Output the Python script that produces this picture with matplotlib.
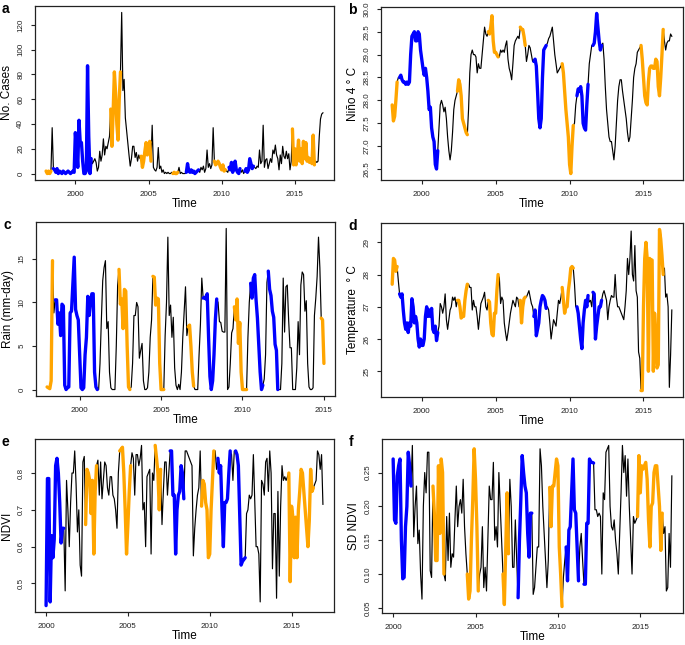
import numpy as np
import matplotlib
matplotlib.use("Agg")
import matplotlib.pyplot as plt

plt.rcParams['font.family'] = ['Liberation Sans', 'DejaVu Sans']

# ENSO phases, decimal years of first and last month (inclusive)
el_nino = [(1998.0, 1998.333), (2002.417, 2003.083), (2004.5, 2005.167),
           (2006.667, 2007.0), (2009.5, 2010.25), (2014.833, 2016.333)]
la_nina = [(1998.5, 2001.083), (2007.583, 2008.417), (2010.5, 2011.25),
           (2011.583, 2012.167)]

# monthly series, one row per year
cases_start = 1998.0
cases = [
    2, 0, 2, 0, 2, 37, 4, 3, 1, 4, 0, 2,
    1, 0, 2, 1, 0, 1, 2, 1, 0, 1, 2, 1,
    33, 20, 5, 43, 25, 25, 10, 0, 0, 2, 87, 30,
    0, 12, 8, 10, 12, 9, 2, 5, 18, 10, 15, 28,
    15, 22, 20, 25, 30, 52, 22, 50, 82, 65, 40, 27,
    60, 82, 130, 67, 76, 45, 35, 25, 15, 6, 12, 22,
    22, 13, 17, 10, 15, 12, 14, 5, 10, 18, 25, 15,
    20, 26, 10, 39, 5, 3, 2, 5, 21, 4, 6, 1,
    3, 0, 1, 0, 1, 0, 0, 1, 0, 1, 0, 0,
    1, 5, 0, 1, 0, 0, 0, 1, 8, 2, 1, 3,
    1, 2, 0, 1, 2, 3, 1, 5, 3, 6, 1, 4,
    19, 5, 8, 4, 7, 37, 10, 7, 8, 10, 8, 5,
    3, 7, 2, 3, 2, 1, 5, 3, 9, 1, 5, 10,
    3, 1, 0, 4, 1, 3, 0, 2, 4, 1, 3, 12,
    8, 4, 6, 5, 4, 6, 5, 19, 8, 10, 39, 5,
    11, 12, 4, 8, 12, 9, 19, 16, 23, 15, 12, 3,
    15, 8, 22, 14, 12, 18, 12, 16, 3, 10, 36, 7,
    20, 7, 15, 27, 10, 20, 8, 26, 12, 25, 10, 13,
    9, 12, 8, 31, 7, 10, 9, 10, 30, 44, 48, 49,
]

nino4_start = 1998.0
nino4 = [
    27.9, 27.55, 27.65, 28.0, 28.4, 28.5, 28.5, 28.55, 28.45, 28.4, 28.4, 28.35,
    28.4, 28.35, 28.4, 29.0, 29.4, 29.45, 29.5, 29.3, 29.3, 29.5, 29.45, 29.1,
    28.9, 28.7, 28.55, 28.7, 28.5, 28.2, 27.8, 27.85, 27.4, 27.2, 27.1, 26.6,
    26.5, 26.9, 27.4, 27.9, 28.0, 27.9, 27.75, 27.85, 27.6, 27.2, 26.9, 26.7,
    26.9, 27.3, 27.8, 28.0, 28.1, 28.2, 28.45, 28.35, 28.1, 27.6, 27.5, 27.4,
    27.3, 27.25, 27.8, 28.6, 29.0, 29.1, 29.0, 29.0, 28.95, 28.6, 28.8, 28.7,
    28.7, 29.0, 29.3, 29.6, 29.45, 29.4, 29.5, 29.45, 29.6, 29.85, 29.3, 29.05,
    29.05, 29.0, 28.95, 28.95, 29.1, 29.05, 29.1, 29.05, 29.2, 29.3, 28.9, 28.7,
    28.6, 28.45, 28.8, 29.2, 29.3, 29.35, 29.4, 29.35, 29.6, 29.55, 29.55, 29.4,
    29.2, 28.85, 29.0, 29.2, 29.15, 29.0, 28.85, 28.85, 28.9, 28.75, 28.2, 27.6,
    27.4, 27.6, 28.5, 29.1, 29.15, 29.2, 29.25, 29.35, 29.4, 29.5, 29.6, 29.3,
    29.0, 28.8, 28.6, 28.65, 28.7, 28.75, 28.8, 28.6, 28.2, 27.8, 27.5, 27.2,
    26.6, 26.4, 27.0, 27.45, 27.5, 27.9, 28.1, 28.25, 28.2, 28.3, 28.1, 27.5,
    27.4, 27.35, 27.9, 28.35, 28.8, 29.0, 29.2, 29.2, 29.25, 29.5, 29.9, 29.6,
    29.3, 29.1, 29.2, 29.25, 28.9, 28.3, 27.8, 27.5, 27.2, 27.1, 27.1, 26.9,
    26.7, 27.0, 27.5, 28.0, 28.3, 28.45, 28.45, 28.2, 28.0, 27.8, 27.6, 27.3,
    27.1, 27.2, 27.6, 28.0, 28.5, 28.7, 28.8, 29.05, 29.1, 29.15, 29.2, 28.9,
    28.5, 28.1, 27.95, 27.9, 28.4, 28.7, 28.75, 28.75, 28.7, 28.7, 28.9, 28.85,
    28.3, 28.1, 28.5, 29.0, 29.55, 29.3, 29.1, 29.25, 29.3, 29.3, 29.45, 29.4,
]

rain_start = 1998.0
rain = [
    0.3, 0.2, 0.1, 1.0, 14.8, 8.8, 10.3, 10.3, 7.5, 8.8, 6.2, 9.8,
    9.6, 0.5, 0.0, 0.2, 0.3, 8.8, 9.0, 12.0, 15.2, 9.2, 8.5, 8.0,
    4.0, 0.2, 0.0, 0.2, 4.0, 6.0, 10.7, 8.5, 10.0, 11.0, 11.0, 2.0,
    0.3, 0.0, 0.0, 3.0, 8.0, 12.5, 14.0, 14.8, 7.0, 7.8, 2.0, 0.2,
    0.0, 0.0, 0.0, 5.0, 12.0, 13.8, 9.8, 10.4, 7.0, 11.5, 11.3, 5.0,
    0.3, 0.0, 0.3, 3.0, 8.5, 8.5, 10.0, 9.5, 3.6, 4.5, 5.3, 1.0,
    0.0, 0.0, 0.2, 2.0, 6.0, 8.0, 13.0, 12.9, 9.7, 10.5, 10.4, 3.0,
    0.0, 0.0, 0.0, 6.2, 10.0, 17.5, 8.5, 9.7, 6.0, 8.3, 2.5, 0.5,
    0.0, 0.6, 0.0, 2.0, 6.0, 9.0, 11.8, 6.2, 7.2, 7.4, 5.0, 2.0,
    0.4, 0.0, 0.0, 0.0, 4.0, 7.5, 12.8, 10.5, 10.6, 10.4, 11.0, 6.0,
    1.5, 0.0, 1.0, 4.0, 8.0, 10.4, 10.0, 7.8, 7.7, 6.7, 6.6, 6.6,
    18.5, 0.0, 0.3, 3.0, 6.5, 7.0, 9.5, 8.0, 10.4, 5.3, 7.7, 2.0,
    0.0, 0.0, 0.0, 0.0, 6.0, 10.0, 12.2, 10.5, 12.8, 13.2, 10.3, 8.2,
    5.0, 2.0, 0.0, 0.5, 1.2, 4.0, 12.3, 13.6, 11.5, 10.8, 9.0, 8.3,
    5.2, 4.5, 0.0, 0.0, 0.0, 3.0, 12.8, 6.6, 11.8, 12.0, 8.0, 4.8,
    4.8, 0.0, 0.0, 0.0, 2.5, 7.8, 4.0, 12.0, 13.5, 13.2, 9.0, 10.2,
    3.0, 0.3, 0.0, 0.0, 0.2, 8.5, 10.5, 13.0, 17.5, 14.0, 8.2, 8.0,
    3.0,
]

temp_start = 1998.0
temp = [
    27.7, 28.5, 28.45, 28.1, 28.25, 27.8, 27.4, 27.3, 27.4, 26.9, 26.5, 26.3,
    26.5, 26.2, 26.5, 26.4, 27.25, 27.0, 26.5, 26.7, 26.5, 26.0, 25.75, 26.0,
    25.8, 25.8, 26.0, 26.7, 27.0, 26.7, 26.9, 26.7, 26.95, 26.3, 26.2, 26.4,
    25.95, 26.2, 26.4, 27.1, 27.0, 26.8, 27.0, 27.4, 26.6, 26.3, 26.6, 26.9,
    27.0, 27.3, 27.2, 27.3, 27.0, 27.2, 27.2, 27.0, 26.65, 26.7, 26.7, 27.2,
    27.5, 27.7, 27.7, 27.6, 27.6, 26.9, 27.2, 27.0, 27.0, 26.7, 26.3, 26.7,
    27.1, 27.2, 27.3, 27.45, 27.0, 26.9, 27.2, 27.15, 26.5, 26.15, 26.1, 26.8,
    26.8, 27.5, 28.0, 27.9, 27.1, 27.3, 27.2, 26.5, 26.2, 25.95, 26.2, 26.5,
    26.8, 27.0, 27.2, 27.1, 27.0, 27.3, 27.25, 27.0, 27.2, 26.5, 27.0, 27.25,
    27.3, 27.3, 27.4, 27.5, 27.3, 27.1, 27.0, 26.7, 26.9, 26.1, 26.3, 26.5,
    27.0, 27.2, 27.35, 27.3, 27.2, 26.95, 27.0, 26.9, 26.5, 26.0, 26.3, 26.6,
    26.5, 26.4, 26.8, 27.2, 27.1, 27.3, 27.6, 27.2, 26.8, 27.0, 27.0, 27.5,
    27.8, 28.2, 28.25, 28.2, 27.7, 27.0, 27.0, 26.8, 26.4, 26.0, 25.7, 26.5,
    26.9, 27.2, 27.0, 27.35, 27.15, 27.2, 27.0, 27.45, 27.4, 26.0, 26.4, 26.7,
    27.0, 27.0, 27.2, 27.4, 27.5, 27.35, 27.2, 26.6, 27.0, 27.2, 27.35, 27.3,
    27.3, 28.0, 27.3, 27.0, 27.0, 26.9, 26.8, 26.7, 26.6, 27.0, 27.5, 28.5,
    28.0, 28.5, 29.35, 28.0, 27.8, 28.9, 27.5, 27.3, 25.6, 25.4, 24.4, 24.4,
    27.0, 28.5, 29.0, 28.5, 25.0, 28.5, 28.45, 28.45, 25.0, 26.8, 26.2, 25.1,
    25.2, 29.4, 29.1, 28.6, 28.0, 28.2, 27.3, 27.4, 27.0, 24.5, 25.5, 26.9,
]

ndvi_start = 2000.0
ndvi = [
    0.44, 0.785, 0.785, 0.45, 0.63, 0.57, 0.62, 0.82, 0.84, 0.80, 0.72, 0.61,
    0.65, 0.65, 0.48, 0.78, 0.70, 0.60, 0.72, 0.80, 0.80, 0.86, 0.77, 0.64,
    0.70, 0.55, 0.52, 0.83, 0.845, 0.66, 0.81, 0.80, 0.78, 0.69, 0.78, 0.58,
    0.75, 0.82, 0.835, 0.74, 0.83, 0.73, 0.78, 0.83, 0.82, 0.76, 0.74, 0.79,
    0.79, 0.74, 0.73, 0.70, 0.65, 0.80, 0.86, 0.865, 0.87, 0.80, 0.70, 0.58,
    0.66, 0.75, 0.82, 0.855, 0.84, 0.74, 0.85, 0.85, 0.82, 0.84, 0.875, 0.70,
    0.72, 0.60, 0.79, 0.80, 0.81, 0.58, 0.80, 0.78, 0.875, 0.84, 0.80, 0.70,
    0.81, 0.66, 0.75, 0.83, 0.83, 0.74, 0.80, 0.86, 0.86, 0.74, 0.74, 0.58,
    0.70, 0.74, 0.75, 0.82, 0.80, 0.73, 0.86, 0.86, 0.85, 0.84, 0.83, 0.82,
    0.575, 0.65, 0.70, 0.74, 0.76, 0.86, 0.71, 0.78, 0.77, 0.72, 0.70, 0.57,
    0.58, 0.70, 0.78, 0.86, 0.86, 0.81, 0.84, 0.80, 0.82, 0.70, 0.60, 0.72,
    0.72, 0.73, 0.80, 0.86, 0.85, 0.78, 0.86, 0.86, 0.85, 0.82, 0.69, 0.55,
    0.56, 0.565, 0.57, 0.69, 0.70, 0.74, 0.73, 0.74, 0.85, 0.72, 0.60, 0.60,
    0.58, 0.45, 0.78, 0.77, 0.74, 0.83, 0.84, 0.75, 0.86, 0.80, 0.54, 0.69,
    0.69, 0.46, 0.75, 0.52, 0.71, 0.82, 0.78, 0.79, 0.78, 0.79, 0.80, 0.505,
    0.71, 0.68, 0.57, 0.68, 0.57, 0.70, 0.75, 0.81, 0.80, 0.75, 0.70, 0.65,
    0.60, 0.67, 0.81, 0.75, 0.76, 0.77, 0.78, 0.86, 0.85, 0.81, 0.85, 0.715,
]

sd_ndvi_start = 2000.0
sd_ndvi = [
    0.27, 0.18, 0.175, 0.245, 0.26, 0.27, 0.15, 0.093, 0.095, 0.17, 0.20, 0.28,
    0.26, 0.23, 0.29, 0.155, 0.20, 0.23, 0.145, 0.165, 0.10, 0.063, 0.20, 0.25,
    0.22, 0.28, 0.28, 0.105, 0.095, 0.23, 0.19, 0.12, 0.12, 0.26, 0.16, 0.27,
    0.25, 0.10, 0.09, 0.185, 0.12, 0.19, 0.11, 0.13, 0.125, 0.18, 0.23, 0.17,
    0.20, 0.21, 0.19, 0.24, 0.17, 0.13, 0.10, 0.063, 0.075, 0.15, 0.21, 0.285,
    0.24, 0.17, 0.075, 0.10, 0.11, 0.17, 0.08, 0.11, 0.075, 0.15, 0.23, 0.21,
    0.21, 0.265, 0.15, 0.17, 0.14, 0.25, 0.20, 0.15, 0.10, 0.055, 0.14, 0.22,
    0.13, 0.24, 0.20, 0.11, 0.11, 0.18, 0.12, 0.065, 0.15, 0.21, 0.275, 0.25,
    0.23, 0.22, 0.16, 0.125, 0.19, 0.19, 0.07, 0.08, 0.11, 0.14, 0.14, 0.285,
    0.26, 0.20, 0.16, 0.12, 0.08, 0.12, 0.228, 0.17, 0.23, 0.23, 0.25, 0.27,
    0.26, 0.14, 0.10, 0.052, 0.095, 0.12, 0.14, 0.09, 0.165, 0.17, 0.22, 0.27,
    0.195, 0.19, 0.14, 0.09, 0.14, 0.16, 0.12, 0.085, 0.085, 0.175, 0.175, 0.27,
    0.265, 0.265, 0.264, 0.195, 0.195, 0.185, 0.19, 0.185, 0.10, 0.22, 0.21, 0.28,
    0.285, 0.29, 0.20, 0.17, 0.165, 0.18, 0.15, 0.13, 0.10, 0.16, 0.22, 0.29,
    0.25, 0.275, 0.215, 0.27, 0.20, 0.15, 0.10, 0.185, 0.175, 0.18, 0.185, 0.275,
    0.22, 0.26, 0.255, 0.26, 0.265, 0.24, 0.18, 0.14, 0.20, 0.205, 0.25, 0.26,
    0.26, 0.23, 0.20, 0.135, 0.19, 0.16, 0.17, 0.075, 0.08, 0.16, 0.11, 0.245,
]

year_ticks = [2000, 2005, 2010, 2015]
cases_ticks = [0, 20, 40, 60, 80, 100, 120]
nino4_ticks = [26.5, 27.0, 27.5, 28.0, 28.5, 29.0, 29.5, 30.0]
rain_ticks = [0, 5, 10, 15]
temp_ticks = [25, 26, 27, 28, 29]
ndvi_ticks = [0.5, 0.6, 0.7, 0.8]
sd_ndvi_ticks = [0.05, 0.10, 0.15, 0.20, 0.25]

W, H = 685, 645
fig = plt.figure(figsize=(W / 100, H / 100), dpi=100)


def phase_mask(t, periods):
    m = np.zeros(len(t), dtype=bool)
    for a, b in periods:
        m |= (t >= a - 0.01) & (t <= b + 0.01)
    return m


def panel(box, letter, start, values, ylabel, yticks, fmt):
    left, top, right, bottom = box
    ax = fig.add_axes([left / W, 1 - bottom / H, (right - left) / W, (bottom - top) / H])
    v = np.array(values, dtype=float)
    t = start + np.arange(len(v)) / 12.0

    ax.plot(t, v, color='black', lw=0.85, solid_joinstyle='round')
    for periods, col in ((la_nina, 'blue'), (el_nino, 'orange')):
        vv = np.where(phase_mask(t, periods), v, np.nan)
        ax.plot(t, vv, color=col, lw=2.4, solid_joinstyle='round', solid_capstyle='round')

    # R style 4% padding
    xr = t[-1] - t[0]
    ax.set_xlim(t[0] - 0.04 * xr, t[-1] + 0.04 * xr)
    yr = np.nanmax(v) - np.nanmin(v)
    ax.set_ylim(np.nanmin(v) - 0.04 * yr, np.nanmax(v) + 0.04 * yr)

    ax.set_xticks(year_ticks)
    ax.set_xticklabels([str(y) for y in year_ticks])
    ax.set_yticks(yticks)
    ax.set_yticklabels([fmt % y for y in yticks], rotation=90, va='center')
    ax.tick_params(direction='out', length=3.2, width=0.8, labelsize=5.8,
                   colors='#222222', pad=4.5, top=False, right=False)
    for s in ax.spines.values():
        s.set_linewidth(0.9)
        s.set_color('#222222')

    ax.set_xlabel('Time', fontsize=8.5, labelpad=0.5)
    ax.set_ylabel(ylabel, fontsize=8.5, labelpad=3)
    fig.text((left - 33) / W, 1 - (top - 4) / H, letter, fontsize=10,
             fontweight='bold', ha='left', va='top')
    return ax


panel((35, 6, 334, 180), 'a', cases_start, cases, 'No. Cases', cases_ticks, '%d')
panel((381, 7, 683, 180), 'b', nino4_start, nino4, 'Niño 4 ° C', nino4_ticks, '%.1f')
panel((36, 222, 335, 396), 'c', rain_start, rain, 'Rain (mm-day)', rain_ticks, '%d')
panel((381, 223, 683, 397), 'd', temp_start, temp, 'Temperature  ° C', temp_ticks, '%d')
panel((35, 439, 334, 612), 'e', ndvi_start, ndvi, 'NDVI', ndvi_ticks, '%.1f')
panel((382, 439, 683, 613), 'f', sd_ndvi_start, sd_ndvi, 'SD NDVI', sd_ndvi_ticks, '%.2f')

fig.savefig('out.png', dpi=100)
